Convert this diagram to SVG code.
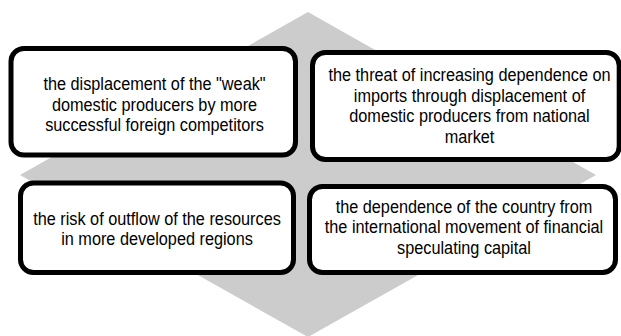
<svg xmlns="http://www.w3.org/2000/svg" width="621" height="336" viewBox="0 0 621 336">
<style>
.box{fill:#ffffff;stroke:#000000;stroke-width:5}
.t{font-family:"Liberation Sans",Arial,sans-serif;font-size:18.5px;fill:#000000;text-anchor:middle}
</style>
<rect width="621" height="336" fill="#ffffff"/>
<polygon id="diamond" points="308,12 596,175 308,337 20,175" fill="#cccccc"/>
<g id="node1">
<rect class="box" x="11" y="48.5" width="284.5" height="106.5" rx="13"/>
<g transform="translate(154.5,0) scale(0.88,1)">
<text class="t" x="0" y="90.5">the displacement of the "weak"</text>
<text class="t" x="0" y="110.7">domestic producers by more</text>
<text class="t" x="0" y="130.9">successful foreign competitors</text>
</g>
</g>
<g id="node2">
<rect class="box" x="312.5" y="52.5" width="306.7" height="107" rx="13"/>
<g transform="translate(469.5,0) scale(0.88,1)">
<text class="t" x="0" y="81.5">the threat of increasing dependence on</text>
<text class="t" x="0" y="102">imports through displacement of</text>
<text class="t" x="0" y="122.5">domestic producers from national</text>
<text class="t" x="0" y="143">market</text>
</g>
</g>
<g id="node3">
<rect class="box" x="20.5" y="183" width="273" height="89.5" rx="13"/>
<g transform="translate(157,0) scale(0.88,1)">
<text class="t" x="0" y="225.3">the risk of outflow of the resources</text>
<text class="t" x="0" y="245.5">in more developed regions</text>
</g>
</g>
<g id="node4">
<rect class="box" x="309.5" y="186.5" width="306" height="86" rx="13"/>
<g transform="translate(464,0) scale(0.88,1)">
<text class="t" x="0" y="212.8">the dependence of the country from</text>
<text class="t" x="0" y="233.5">the international movement of financial</text>
<text class="t" x="0" y="254.2">speculating capital</text>
</g>
</g>
<g id="connectors"></g>
</svg>
